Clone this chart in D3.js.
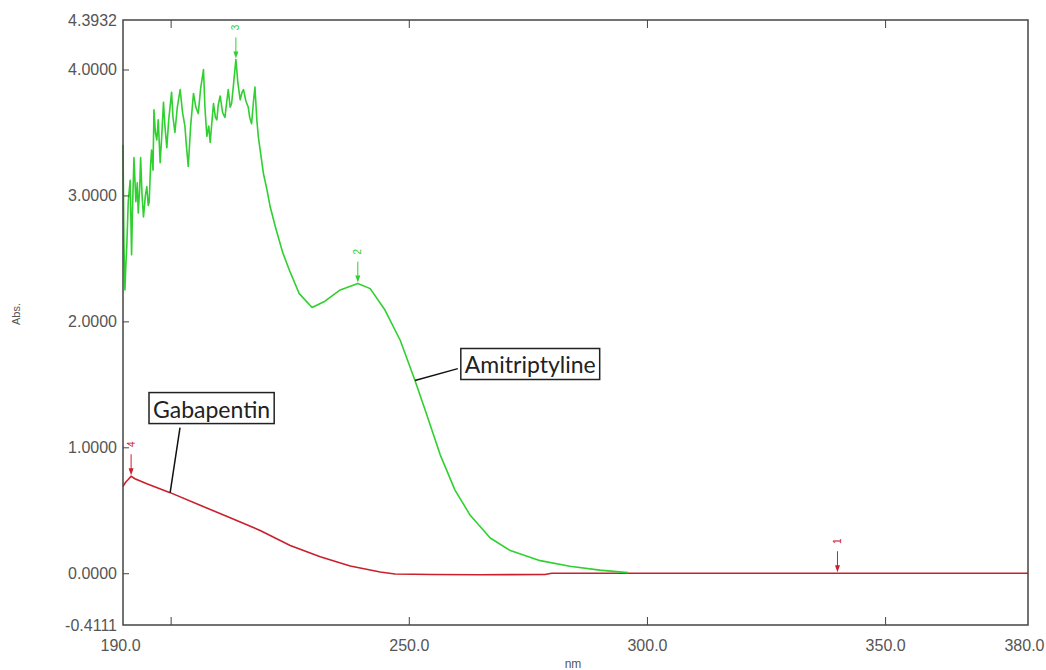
<!DOCTYPE html>
<html>
<head>
<meta charset="utf-8">
<script src="https://cdn.jsdelivr.net/npm/d3@7"></script>
<style>
  body { margin: 0; background: #fff; }
  svg { display: block; }
  .tick-label { font-family: "Liberation Sans", Arial, sans-serif; font-size: 16px; fill: #555; }
  .callout { font-family: Lato, "Open Sans", sans-serif; font-size: 23px; fill: #222; }
</style>
</head>
<body>
<div id="chart-area"></div>
<script>
// UV spectra (nm vs Abs.)
const amitriptylineNm = [190.0, 190.2, 190.4, 190.6, 190.8, 191.1, 191.5, 191.8, 192.0, 192.3, 192.7, 193.0,
  193.2, 193.5, 193.7, 194.0, 194.3, 194.7, 195.0, 195.3, 195.5, 195.8, 196.0, 196.3, 196.5, 196.8,
  197.1, 197.4, 197.8, 198.1, 198.5, 198.8, 199.2, 199.6, 200.2, 200.5, 200.9, 201.4, 202.0, 202.5,
  203.0, 203.3, 203.7, 204.2, 204.8, 205.3, 205.8, 206.3, 206.9, 207.2, 207.6, 208.0, 208.3, 208.7,
  209.0, 209.4, 209.7, 210.0, 210.4, 210.9, 211.4, 211.8, 212.1, 212.5, 212.8, 213.2, 213.7, 214.1,
  214.6, 215.0, 215.3, 215.8, 216.3, 216.6, 217.0, 217.4, 217.7, 218.1, 218.4, 218.8, 219.5, 220.2,
  220.9, 222.0, 223.5, 225.0, 227.0, 229.7, 232.4, 235.6, 239.3, 241.9, 245.0, 248.2, 251.3, 253.4,
  256.6, 259.7, 262.9, 267.1, 271.3, 277.6, 283.8, 290.1, 296.0]
const amitriptylineAbs = [3.40, 2.60, 2.25, 2.45, 2.60, 2.95, 3.12, 2.53, 2.90, 3.30, 2.95, 3.10,
  2.86, 3.05, 3.30, 3.00, 2.83, 3.00, 3.07, 2.92, 2.95, 3.25, 3.36, 3.20, 3.68, 3.50,
  3.44, 3.60, 3.26, 3.45, 3.74, 3.55, 3.38, 3.60, 3.82, 3.62, 3.50, 3.70, 3.84, 3.66,
  3.55, 3.40, 3.23, 3.55, 3.81, 3.70, 3.65, 3.85, 4.00, 3.70, 3.47, 3.55, 3.42, 3.60,
  3.73, 3.62, 3.60, 3.72, 3.79, 3.66, 3.62, 3.75, 3.84, 3.70, 3.73, 3.88, 4.08, 3.90,
  3.76, 3.82, 3.84, 3.75, 3.70, 3.62, 3.57, 3.75, 3.86, 3.60, 3.47, 3.36, 3.17, 3.05,
  2.91, 2.75, 2.55, 2.40, 2.22, 2.11, 2.16, 2.25, 2.30, 2.26, 2.09, 1.85, 1.53, 1.30,
  0.94, 0.66, 0.46, 0.28, 0.18, 0.10, 0.055, 0.025, 0.005]

const gabapentinNm = [190.0, 190.5, 191.0, 191.7, 192.5, 195.0, 199.9, 206.2, 212.5, 218.8, 225.1, 231.4,
  237.7, 244.0, 247.1, 255.0, 265.0, 278.6, 280.0, 380.0]
const gabapentinAbs = [0.69, 0.72, 0.74, 0.77, 0.75, 0.71, 0.64, 0.54, 0.44, 0.34, 0.22, 0.13,
  0.057, 0.01, -0.006, -0.01, -0.012, -0.01, 0.0, 0.0]

// peak picks
const peakNm = [213.7, 239.3, 191.7, 340.0]
const peakAbs = [4.08, 2.30, 0.77, 0.0]
const peakLabel = ["3", "2", "4", "1"]
const peakSeries = ["ami", "ami", "gaba", "gaba"]

// axis ticks
const yTickValues = [-0.4111, 0, 1, 2, 3, 4, 4.3932]
const yTickLabels = ["-0.4111", "0.0000", "1.0000", "2.0000", "3.0000", "4.0000", "4.3932"]
const xTickMarks = [200, 250, 300, 350]
const xTickValues = [190, 250, 300, 350, 380]
const xTickLabels = ["190.0", "250.0", "300.0", "350.0", "380.0"]

// callouts: text, point on curve (nm), box centre (nm, abs)
const calloutText = ["Gabapentin", "Amitriptyline"]
const calloutPointNm = [199.9, 251.3]
const calloutSeries = ["gaba", "ami"]
const calloutBoxNm = [208.6, 275.5]
const calloutBoxAbs = [1.30, 1.65]

const COLORS = { ami: "#2fd02f", gaba: "#c8202c" }

const W = 1046, H = 670
const PLOT = { LEFT: 123, RIGHT: 1028, TOP: 20, BOTTOM: 625 }

const svg = d3.select("#chart-area").append("svg")
  .attr("width", W)
  .attr("height", H)

const x = d3.scaleLinear().domain([190, 380]).range([PLOT.LEFT, PLOT.RIGHT])
const y = d3.scaleLinear().domain([-0.4111, 4.3932]).range([PLOT.BOTTOM, PLOT.TOP])

const series = {
  ami: amitriptylineNm.map((d, i) => [d, amitriptylineAbs[i]]),
  gaba: gabapentinNm.map((d, i) => [d, gabapentinAbs[i]])
}

const line = d3.line().x(d => x(d[0])).y(d => y(d[1]))

// curves
svg.append("path")
  .datum(series.gaba)
  .attr("fill", "none")
  .attr("stroke", COLORS.gaba)
  .attr("stroke-width", 1.6)
  .attr("d", line)

svg.append("path")
  .datum(series.ami)
  .attr("fill", "none")
  .attr("stroke", COLORS.ami)
  .attr("stroke-width", 1.6)
  .attr("stroke-linejoin", "round")
  .attr("d", line)

// frame
svg.append("rect")
  .attr("x", PLOT.LEFT).attr("y", PLOT.TOP)
  .attr("width", PLOT.RIGHT - PLOT.LEFT)
  .attr("height", PLOT.BOTTOM - PLOT.TOP)
  .attr("fill", "none")
  .attr("stroke", "#444")
  .attr("stroke-width", 1.5)

// y axis (ticks inside)
const yAxis = d3.axisLeft(y)
  .tickValues(yTickValues)
  .tickSize(-6)
  .tickPadding(6)
  .tickFormat((d, i) => yTickLabels[i])
const yAxisGroup = svg.append("g")
  .attr("transform", `translate(${PLOT.LEFT}, 0)`)
  .call(yAxis)
yAxisGroup.select(".domain").remove()
yAxisGroup.selectAll(".tick line")
  .attr("stroke", "#444")
  .filter((d, i) => i === 0 || i === yTickValues.length - 1).remove()
yAxisGroup.selectAll(".tick text").attr("class", "tick-label")
yAxisGroup.attr("font-size", null).attr("font-family", null)

// x axis ticks (inside, top and bottom)
const xTicksBottom = d3.axisBottom(x).tickValues(xTickMarks).tickSize(-8).tickFormat("")
const xb = svg.append("g").attr("transform", `translate(0, ${PLOT.BOTTOM})`).call(xTicksBottom)
xb.select(".domain").remove()
xb.selectAll(".tick line").attr("stroke", "#444")

const xTicksTop = d3.axisTop(x).tickValues(xTickMarks).tickSize(-8).tickFormat("")
const xt = svg.append("g").attr("transform", `translate(0, ${PLOT.TOP})`).call(xTicksTop)
xt.select(".domain").remove()
xt.selectAll(".tick line").attr("stroke", "#444")

// x labels
const xLabels = d3.axisBottom(x).tickValues(xTickValues).tickSize(0).tickPadding(15)
  .tickFormat((d, i) => xTickLabels[i])
const xl = svg.append("g").attr("transform", `translate(0, ${PLOT.BOTTOM})`).call(xLabels)
xl.select(".domain").remove()
xl.attr("font-size", null).attr("font-family", null)
xl.selectAll(".tick text").attr("class", "tick-label")
xl.selectAll(".tick text").filter((d, i) => i === 0).attr("dx", -3)
// last label kept inside the page edge
xl.selectAll(".tick text").filter((d, i) => i === xTickValues.length - 1)
  .attr("text-anchor", "end")
  .attr("dx", 16)

// axis titles
svg.append("text")
  .attr("class", "tick-label")
  .attr("transform", `translate(20, 314) rotate(-90)`)
  .attr("text-anchor", "middle")
  .style("font-size", "11px")
  .text("Abs.")

svg.append("text")
  .attr("class", "tick-label")
  .attr("x", 573)
  .attr("y", 668)
  .attr("text-anchor", "middle")
  .style("font-size", "12px")
  .text("nm")

// peak picks: arrow + rotated label
const peaks = peakNm.map((d, i) => ({ nm: d, v: peakAbs[i], label: peakLabel[i], s: peakSeries[i] }))
const pg = svg.selectAll(".peak").data(peaks).enter().append("g")
  .attr("class", "peak")
  .attr("transform", d => `translate(${x(d.nm)}, ${y(d.v)})`)
pg.append("line")
  .attr("x1", 0).attr("x2", 0)
  .attr("y1", -22).attr("y2", -4)
  .attr("stroke", d => COLORS[d.s])
  .attr("stroke-width", 1)
pg.append("path")
  .attr("d", "M-2.5,-8 L2.5,-8 L0,-1 Z")
  .attr("fill", d => COLORS[d.s])
pg.append("text")
  .attr("transform", "translate(0, -32) rotate(-90)")
  .attr("text-anchor", "middle")
  .attr("dy", "0.35em")
  .style("font-family", "Liberation Sans, Arial, sans-serif")
  .style("font-size", "10px")
  .attr("fill", d => COLORS[d.s])
  .text(d => d.label)

// callouts
function valueAt(s, nm) {
  const pts = series[s]
  for (let i = 1; i < pts.length; i++) {
    if (nm <= pts[i][0]) {
      const t = (nm - pts[i - 1][0]) / (pts[i][0] - pts[i - 1][0])
      return pts[i - 1][1] + t * (pts[i][1] - pts[i - 1][1])
    }
  }
  return pts[pts.length - 1][1]
}

calloutText.forEach((txt, i) => {
  const cx = x(calloutBoxNm[i]), cy = y(calloutBoxAbs[i])
  const g = svg.append("g")
  const t = g.append("text")
    .attr("class", "callout")
    .attr("x", cx).attr("y", cy)
    .attr("text-anchor", "middle")
    .attr("dy", "0.35em")
    .text(txt)
  const bb = t.node().getBBox()
  const box = { x: bb.x - 4, y: bb.y - 2, w: bb.width + 8, h: bb.height + 3 }
  g.insert("rect", "text")
    .attr("x", box.x).attr("y", box.y)
    .attr("width", box.w).attr("height", box.h)
    .attr("fill", "#fff")
    .attr("stroke", "#222")
    .attr("stroke-width", 1.5)
  const px = x(calloutPointNm[i]), py = y(valueAt(calloutSeries[i], calloutPointNm[i]))
  const ax = i === 0 ? box.x + 31 : box.x - 3
  const ay = i === 0 ? box.y + box.h + 4 : box.y + box.h * 0.65
  svg.append("line")
    .attr("x1", ax).attr("y1", ay)
    .attr("x2", px).attr("y2", py)
    .attr("stroke", "#111")
    .attr("stroke-width", 1.5)
})
</script>
</body>
</html>
